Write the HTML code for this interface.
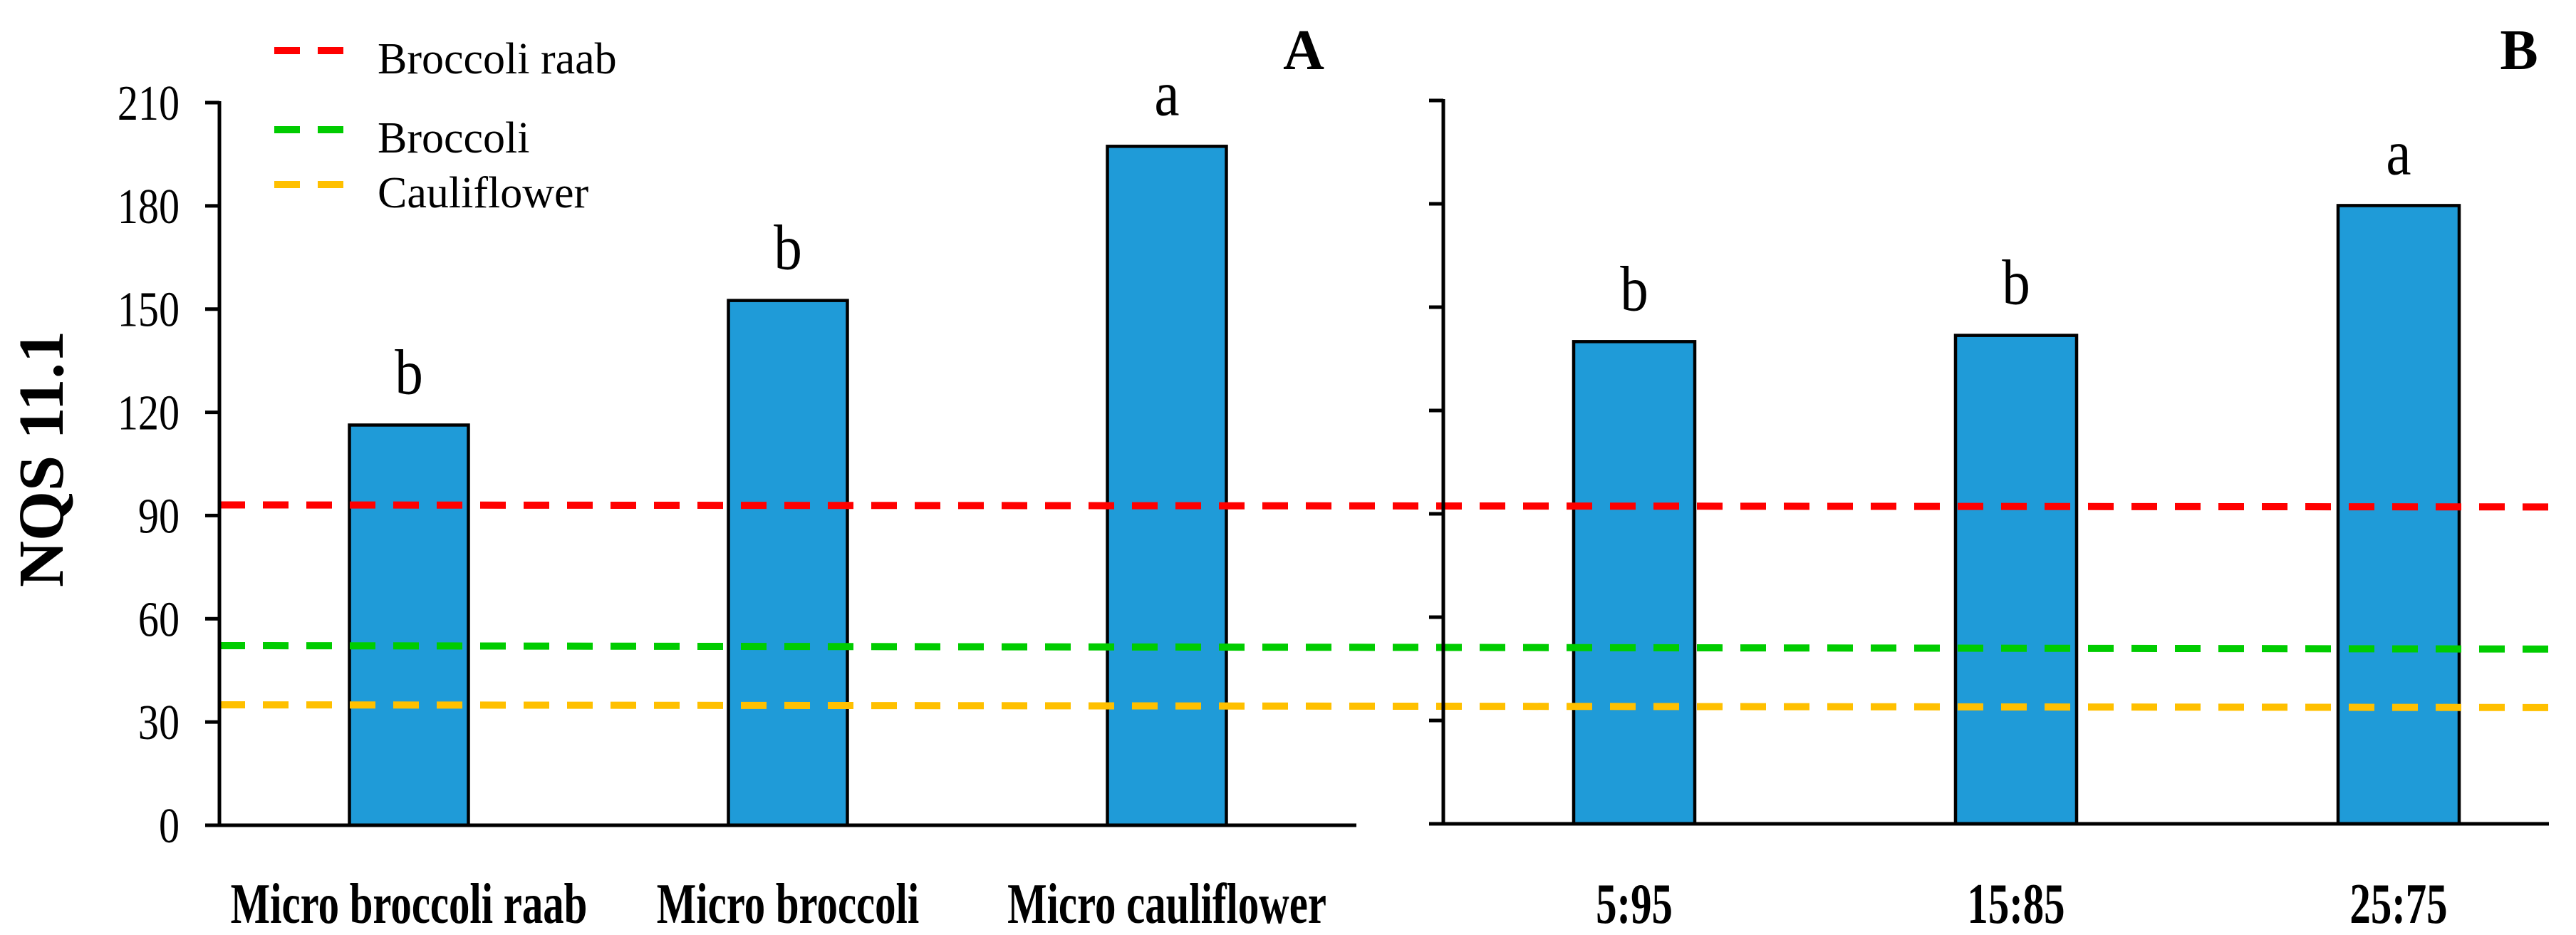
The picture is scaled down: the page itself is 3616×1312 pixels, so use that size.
<!DOCTYPE html>
<html><head><meta charset="utf-8"><style>
html,body{margin:0;padding:0;background:#fff;width:3616px;height:1312px;overflow:hidden}
svg{display:block}
text{font-family:"Liberation Serif",serif;fill:#000}
</style></head><body>
<svg id="chart" width="3616" height="1312" viewBox="0 0 3616 1312" xmlns="http://www.w3.org/2000/svg">
<g id="bars"></g>
<g id="lines"></g>
<g id="axes"></g>
<g id="labels"></g>
<g id="legend"></g>
</svg>
<script>
const categoriesA = ["Micro broccoli raab", "Micro broccoli", "Micro cauliflower"];
const valuesA = [116.3, 152.5, 197.3];
const lettersA = ["b", "b", "a"];
const categoriesB = ["5:95", "15:85", "25:75"];
const valuesB = [140, 141.8, 179.5];
const lettersB = ["b", "b", "a"];
const yTicks = [0, 30, 60, 90, 120, 150, 180, 210];
const refNames = ["Broccoli raab", "Broccoli", "Cauliflower"];
const refStart = [93.1, 52.2, 35.0];
const refEnd = [92.5, 51.2, 34.2];
const refColors = ["#ff0000", "#00cc00", "#ffc000"];

const NS = "http://www.w3.org/2000/svg";
function mk(tag, attrs, parent){const e=document.createElementNS(NS,tag);for(const k in attrs)e.setAttribute(k,attrs[k]);parent.appendChild(e);return e;}
const gL=document.getElementById('lines'),gB=document.getElementById('bars'),gA=document.getElementById('axes'),gT=document.getElementById('labels'),gG=document.getElementById('legend');

const panelA={x0:308,x1:1904,y0:1158,yTop:144,slots:[574,1106,1638],bw:167};
const panelB={x0:2026,x1:3578,y0:1156,yTop:141,slots:[2294,2830,3367],bw:170};
function yS(p,v){return p.y0-(v/210)*(p.y0-p.yTop);}

function drawPanel(p,cats,vals,lets,key,showLabels){
  let a=mk('line',{x1:p.x0,y1:p.yTop-2,x2:p.x0,y2:p.y0+2,stroke:'#000','stroke-width':5},gA);
  
  
  let xa=mk('line',{x1:p.x0-20,y1:p.y0,x2:p.x1,y2:p.y0,stroke:'#000','stroke-width':5},gA);
  
  
  yTicks.forEach(t=>{
    const y=yS(p,t);
    const tk=mk('line',{x1:p.x0-20,y1:y,x2:p.x0,y2:y,stroke:'#000','stroke-width':5},gA);
    
    
    if(showLabels){
      const tx=mk('text',{'font-size':70,'text-anchor':'end',transform:`translate(252,${y+24}) scale(0.83,1)`},gT);
      tx.textContent=t;
      
      
    }
  });
  cats.forEach((c,i)=>{
    const cx=p.slots[i],top=yS(p,vals[i]);
    const r=mk('rect',{x:cx-p.bw/2,y:top,width:p.bw,height:p.y0-top,fill:'#1f9bd8',stroke:'#000','stroke-width':4.5},gB);
    
    
    const lt=mk('text',{'font-size':90,'text-anchor':'middle',transform:`translate(${cx},${top-44}) scale(0.88,1)`},gT);
    lt.textContent=lets[i];
    
    
    const cl=mk('text',{'font-size':80,'font-weight':'bold','text-anchor':'middle',transform:`translate(${cx},1295) scale(0.735,1)`},gT);
    cl.textContent=c;
    
    
  });
}
drawPanel(panelA,categoriesA,valuesA,lettersA,'a',true);
drawPanel(panelB,categoriesB,valuesB,lettersB,'b',false);

refNames.forEach((n,i)=>{
  const l=mk('line',{x1:panelA.x0,y1:yS(panelA,refStart[i]),x2:panelB.x1,y2:yS(panelA,refEnd[i]),stroke:refColors[i],'stroke-width':10,'stroke-dasharray':'36 25'},gL);
  
  
});
const legY=[71,182,259];
refNames.forEach((n,i)=>{
  const d=mk('line',{x1:385,y1:legY[i],x2:485,y2:legY[i],stroke:refColors[i],'stroke-width':10,'stroke-dasharray':'36 25'},gG);
  
  
  const t=mk('text',{x:530,y:legY[i]+32,'font-size':62},gG);
  t.textContent=n;
  
  
});

const yt=mk('text',{'font-size':90,'font-weight':'bold','text-anchor':'middle',transform:'translate(88,644) rotate(-90)'},gT);
yt.textContent='NQS 11.1';


const pa=mk('text',{x:1830,y:97,'font-size':80,'font-weight':'bold','text-anchor':'middle'},gT);
pa.textContent='A';


const pb=mk('text',{x:3536,y:97,'font-size':80,'font-weight':'bold','text-anchor':'middle'},gT);
pb.textContent='B';


</script>
</body></html>
